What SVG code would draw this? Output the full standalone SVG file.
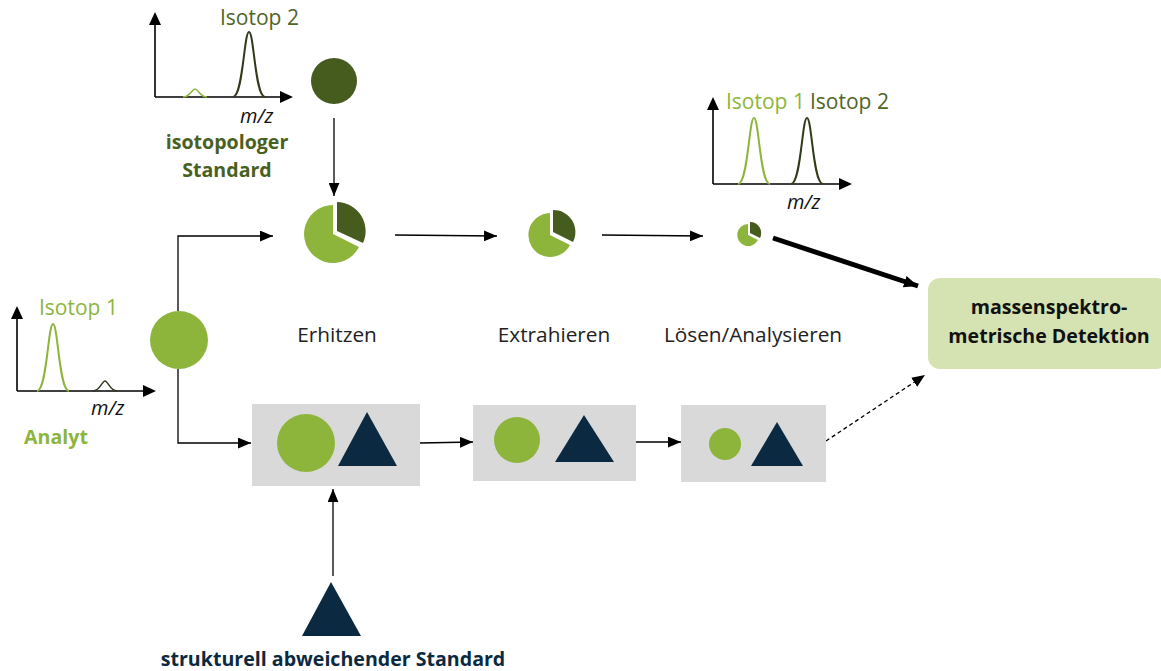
<svg xmlns="http://www.w3.org/2000/svg" width="1161" height="671" viewBox="0 0 1161 671">
<style>
text{font-family:"Open Sans","Noto Sans","Liberation Sans",sans-serif;}
.lbl{font-size:20.8px;fill:#222;text-anchor:middle;}
.iso{font-size:21px;}
.mz{font-size:20px;font-style:italic;fill:#111;}
.b{font-weight:bold;font-size:19.6px;text-anchor:middle;}
.axis{stroke:#000;stroke-width:1.6;fill:none;}
.conn{stroke:#000;stroke-width:1.3;fill:none;}
.lg{fill:#8db53c;}
.dg{fill:#465b1e;}
.nv{fill:#0b2940;}
.box{fill:#d9d9d9;}
</style>
<defs>
<marker id="ah" viewBox="0 0 12 10" refX="12" refY="5" markerWidth="13" markerHeight="11" markerUnits="userSpaceOnUse" orient="auto"><path d="M0,0 L12,5 L0,10 Z" fill="#000"/></marker>
<marker id="ahx" viewBox="0 0 12 10" refX="12" refY="5" markerWidth="14" markerHeight="12" markerUnits="userSpaceOnUse" orient="auto"><path d="M0,0 L12,5 L0,10 Z" fill="#000"/></marker>
</defs>

<g id="connectors">
<path class="conn" d="M178,311 V236 H273" marker-end="url(#ah)"/>
<path class="conn" d="M178,369 V443 H251" marker-end="url(#ah)"/>
<path class="conn" d="M334,118 V196" marker-end="url(#ah)"/>
<path class="conn" d="M395,235 L497,236" marker-end="url(#ah)"/>
<path class="conn" d="M602,235 L703,236" marker-end="url(#ah)"/>
<path d="M773,238 L918,286" stroke="#000" stroke-width="5" fill="none" marker-end="url(#ahx)"/>
<path class="conn" d="M420,443 L473,442" marker-end="url(#ah)"/>
<path class="conn" d="M636,442 L681,442" marker-end="url(#ah)"/>
<path class="conn" d="M826,441 L925,375" stroke-dasharray="4,3" marker-end="url(#ah)"/>
<path class="conn" d="M333,576 V489" marker-end="url(#ah)"/>
</g>

<g id="chart-standard">
<path class="axis" d="M155,97 V24"/>
<path d="M149,25 L155,12 L161,25 Z"/>
<path class="axis" d="M155,97 H281"/>
<path d="M280,91 L293,97 L280,103 Z"/>
<path d="M183,97 C190,97 192,89 195,89 C198,89 200,97 207,97" stroke="#8db53c" stroke-width="1.5" fill="none"/>
<path d="M233,97 C243,97 244,32 249,32 C254,32 255,97 265,97" stroke="#2f3b1a" stroke-width="2" fill="none"/>
<text class="iso" x="220" y="25" fill="#4f6528">Isotop 2</text>
<text class="mz" x="240" y="123">m/z</text>
<text class="b" x="227" y="149" fill="#4a5f22">isotopologer</text>
<text class="b" x="227" y="177" fill="#4a5f22">Standard</text>
</g>
<g id="standard-circle"><circle class="dg" cx="334" cy="81" r="23"/></g>

<g id="chart-analyt">
<path class="axis" d="M17,391 V318"/>
<path d="M11,319 L17,306 L23,319 Z"/>
<path class="axis" d="M17,391 H144"/>
<path d="M143,385 L156,391 L143,397 Z"/>
<path d="M37,391 C47,391 48,324 53,324 C58,324 59,391 69,391" stroke="#8db53c" stroke-width="2" fill="none"/>
<path d="M93,391 C100,391 102,381 105,381 C108,381 110,391 117,391" stroke="#2f3b1a" stroke-width="1.5" fill="none"/>
<text class="iso" x="39" y="315" fill="#8db53c">Isotop 1</text>
<text class="mz" x="91" y="415">m/z</text>
<text class="b" x="56" y="444" fill="#8db53c">Analyt</text>
</g>
<g id="analyt-circle"><circle class="lg" cx="179" cy="340" r="29"/></g>

<g id="pie1">
<path class="lg" d="M333,234 L333,205 A29,29 0 1,0 359,247 Z"/>
<path class="dg" d="M337,231 L337,202 A29,29 0 0,1 363,243 Z"/>
</g>
<g id="pie2">
<path class="lg" d="M550,235 L550,213 A22,22 0 1,0 570,245 Z"/>
<path class="dg" d="M553,232 L553,210 A22,22 0 0,1 573,242 Z"/>
</g>
<g id="pie3">
<path class="lg" d="M748,235 L748,224 A11,11 0 1,0 758,240 Z"/>
<path class="dg" d="M750,233 L750,222 A11,11 0 0,1 760,238 Z"/>
</g>

<g id="chart-result">
<path class="axis" d="M713,184 V109"/>
<path d="M707,110 L713,97 L719,110 Z"/>
<path class="axis" d="M713,184 H840"/>
<path d="M839,178 L852,184 L839,190 Z"/>
<path d="M738,184 C748,184 749,118 754,118 C759,118 760,184 770,184" stroke="#8db53c" stroke-width="2" fill="none"/>
<path d="M791,184 C801,184 802,118 807,118 C812,118 813,184 823,184" stroke="#2f3b1a" stroke-width="2" fill="none"/>
<text class="iso" x="726" y="109" fill="#8db53c">Isotop 1</text>
<text class="iso" x="810" y="109" fill="#4f6528">Isotop 2</text>
<text class="mz" x="787" y="209">m/z</text>
</g>

<g id="label-erhitzen"><text class="lbl" x="337" y="342">Erhitzen</text></g>
<g id="label-extrahieren"><text class="lbl" x="554" y="342">Extrahieren</text></g>
<g id="label-loesen"><text class="lbl" x="753" y="342">Lösen/Analysieren</text></g>

<g id="detektion">
<rect x="928" y="278" width="240" height="91" rx="12" fill="#d4e3b1"/>
<text class="b" x="1049" y="314" fill="#111">massenspektro-</text>
<text class="b" x="1049" y="343" fill="#111">metrische Detektion</text>
</g>

<g id="box1">
<rect class="box" x="252" y="404" width="168" height="82"/>
<circle class="lg" cx="306" cy="443" r="29"/>
<path class="nv" d="M367,412 L397,466 L338,466 Z"/>
</g>
<g id="box2">
<rect class="box" x="473" y="405" width="163" height="76"/>
<circle class="lg" cx="517" cy="440" r="23"/>
<path class="nv" d="M584,415 L614,462 L555,462 Z"/>
</g>
<g id="box3">
<rect class="box" x="681" y="405" width="145" height="77"/>
<circle class="lg" cx="725" cy="444" r="16"/>
<path class="nv" d="M777,422 L803,466 L751,466 Z"/>
</g>

<g id="struct-standard">
<path class="nv" d="M331,582 L361,636 L302,636 Z"/>
<text class="b" x="333" y="666" fill="#0b2940">strukturell abweichender Standard</text>
</g>
</svg>
